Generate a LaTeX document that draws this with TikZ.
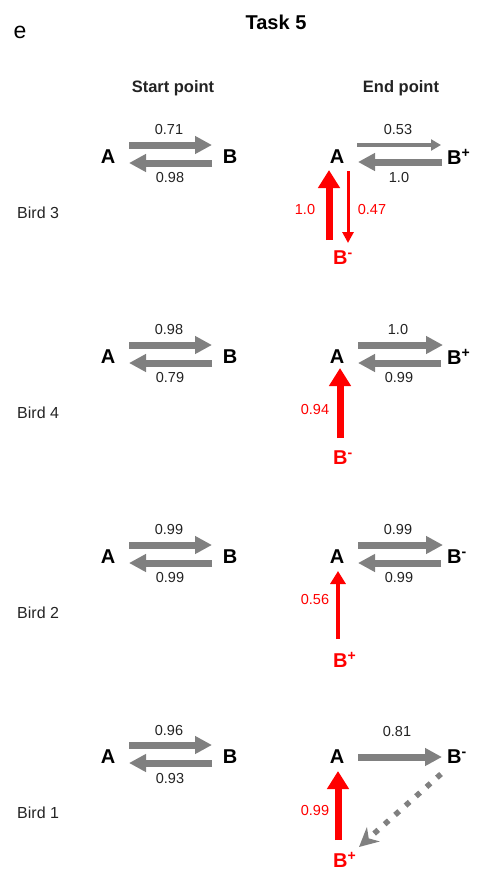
\documentclass[tikz,border=0pt]{standalone}
\usepackage{fontspec}
\setmainfont{Liberation Sans}
\usetikzlibrary{arrows.meta,calc}
\definecolor{arrowgray}{RGB}{128,128,128}
\definecolor{hotred}{RGB}{255,0,0}
\definecolor{numtext}{RGB}{35,35,35}
\begin{document}
\begin{tikzpicture}[x=1pt,y=-1pt,
  num/.style={font=\fontsize{14.5}{16}\selectfont, text=numtext, inner sep=0},
  rnum/.style={font=\fontsize{14.5}{16}\selectfont, text=hotred, inner sep=0},
  state/.style={font=\fontsize{20}{22}\selectfont\bfseries, inner sep=0},
  rstate/.style={state, text=hotred},
  head/.style={font=\fontsize{16.5}{18}\selectfont\bfseries, text=numtext, inner sep=0},
  bird/.style={font=\fontsize{16}{18}\selectfont, text=numtext, inner sep=0, anchor=west},
  gbig/.style={draw=arrowgray, line width=7pt, -{Triangle[width=17pt,length=17pt]}},
  gsmall/.style={draw=arrowgray, line width=3.5pt, -{Triangle[width=11pt,length=10pt]}},
  gdot/.style={draw=arrowgray, line width=5.5pt, dash pattern=on 5.5pt off 8.5pt,
    -{Stealth[width=19pt,length=19pt,inset=6pt]}},
  rbig/.style={draw=hotred, line width=7pt, -{Triangle[width=21pt,length=18pt]}},
  rmid/.style={draw=hotred, line width=4.5pt, -{Triangle[width=15pt,length=13pt]}},
  rthin/.style={draw=hotred, line width=3pt, -{Triangle[width=11pt,length=11pt]}}
]
\useasboundingbox (0,0) rectangle (478,881);

% headings
\node[font=\fontsize{23}{26}\selectfont, inner sep=0] (panel) at (20,32) {e};
\node[font=\fontsize{20}{24}\selectfont\bfseries, inner sep=0] (title) at (276,22) {Task 5};
\node[head] (start) at (173,88) {Start point};
\node[head] (end) at (401,88) {End point};

% ---------- Bird 3 ----------
\begin{scope}[yshift=-157pt]
  \node[state] (A3) at (108,0) {A};
  \node[state] (B3) at (230,0) {B};
  \draw[gbig] ($(A3)+(21,-12)$) -- ($(A3)+(104,-12)$);
  \draw[gbig] ($(A3)+(104,6)$) -- ($(A3)+(21,6)$);
  \node[num] (s3t) at (169,-27) {0.71};
  \node[num] (s3b) at (170,21) {0.98};
  \node[bird] (bird3) at (17,56) {Bird 3};
  \node[state] (E3) at (337,0) {A};
  \node[state, anchor=west] (F3) at (447,0) {B\textsuperscript{+}};
  \node[rstate, anchor=west] (G3) at (333,101) {B\textsuperscript{-}};
  \draw[gsmall] ($(E3)+(20,-12)$) -- ($(E3)+(104,-12)$);
  \draw[gbig] ($(E3)+(105,5)$) -- ($(E3)+(21,5)$);
  \node[num] (e3t) at (398,-27) {0.53};
  \node[num] (e3b) at (399,21) {1.0};
  \draw[rbig] ($(E3)+(-8,83)$) -- ($(E3)+(-8,13)$);
  \draw[rthin] ($(E3)+(11,14)$) -- ($(E3)+(11,86)$);
  \node[rnum] (r3a) at (305,53) {1.0};
  \node[rnum] (r3b) at (372,53) {0.47};
\end{scope}

% ---------- Bird 4 ----------
\begin{scope}[yshift=-357pt]
  \node[state] (A4) at (108,0) {A};
  \node[state] (B4) at (230,0) {B};
  \draw[gbig] ($(A4)+(21,-12)$) -- ($(A4)+(104,-12)$);
  \draw[gbig] ($(A4)+(104,6)$) -- ($(A4)+(21,6)$);
  \node[num] (s4t) at (169,-27) {0.98};
  \node[num] (s4b) at (170,21) {0.79};
  \node[bird] (bird4) at (17,56) {Bird 4};
  \node[state] (E4) at (337,0) {A};
  \node[state, anchor=west] (F4) at (447,0) {B\textsuperscript{+}};
  \node[rstate, anchor=west] (G4) at (333,101) {B\textsuperscript{-}};
  \draw[gbig] ($(E4)+(21,-12)$) -- ($(E4)+(106,-12)$);
  \draw[gbig] ($(E4)+(104,6)$) -- ($(E4)+(21,6)$);
  \node[num] (e4t) at (398,-27) {1.0};
  \node[num] (e4b) at (399,21) {0.99};
  \draw[rbig] ($(E4)+(3,81)$) -- ($(E4)+(3,11)$);
  \node[rnum] (r4a) at (315,53) {0.94};
\end{scope}

% ---------- Bird 2 ----------
\begin{scope}[yshift=-557pt]
  \node[state] (A2) at (108,0) {A};
  \node[state] (B2) at (230,0) {B};
  \draw[gbig] ($(A2)+(21,-12)$) -- ($(A2)+(104,-12)$);
  \draw[gbig] ($(A2)+(104,6)$) -- ($(A2)+(21,6)$);
  \node[num] (s2t) at (169,-27) {0.99};
  \node[num] (s2b) at (170,21) {0.99};
  \node[bird] (bird2) at (17,56) {Bird 2};
  \node[state] (E2) at (337,0) {A};
  \node[state, anchor=west] (F2) at (447,0) {B\textsuperscript{-}};
  \node[rstate, anchor=west] (G2) at (333,103) {B\textsuperscript{+}};
  \draw[gbig] ($(E2)+(21,-12)$) -- ($(E2)+(106,-12)$);
  \draw[gbig] ($(E2)+(104,6)$) -- ($(E2)+(21,6)$);
  \node[num] (e2t) at (398,-27) {0.99};
  \node[num] (e2b) at (399,21) {0.99};
  \draw[rmid] ($(E2)+(1,82)$) -- ($(E2)+(1,14)$);
  \node[rnum] (r2a) at (315,43) {0.56};
\end{scope}

% ---------- Bird 1 ----------
\begin{scope}[yshift=-757pt]
  \node[state] (A1) at (108,0) {A};
  \node[state] (B1) at (230,0) {B};
  \draw[gbig] ($(A1)+(21,-12)$) -- ($(A1)+(104,-12)$);
  \draw[gbig] ($(A1)+(104,6)$) -- ($(A1)+(21,6)$);
  \node[num] (s1t) at (169,-27) {0.96};
  \node[num] (s1b) at (170,21) {0.93};
  \node[bird] (bird1) at (17,56) {Bird 1};
  \node[state] (E1) at (337,0) {A};
  \node[state, anchor=west] (F1) at (447,0) {B\textsuperscript{-}};
  \node[rstate, anchor=west] (G1) at (333,103) {B\textsuperscript{+}};
  \draw[gbig] ($(E1)+(21,0)$) -- ($(E1)+(105,0)$);
  \node[num] (e1t) at (397,-26) {0.81};
  \draw[rbig] ($(E1)+(1,83)$) -- ($(E1)+(1,14)$);
  \node[rnum] (r1a) at (315,53) {0.99};
  \draw[gdot] ($(E1)+(104,17)$) -- ($(E1)+(22,90)$);
\end{scope}
\end{tikzpicture}
\end{document}
